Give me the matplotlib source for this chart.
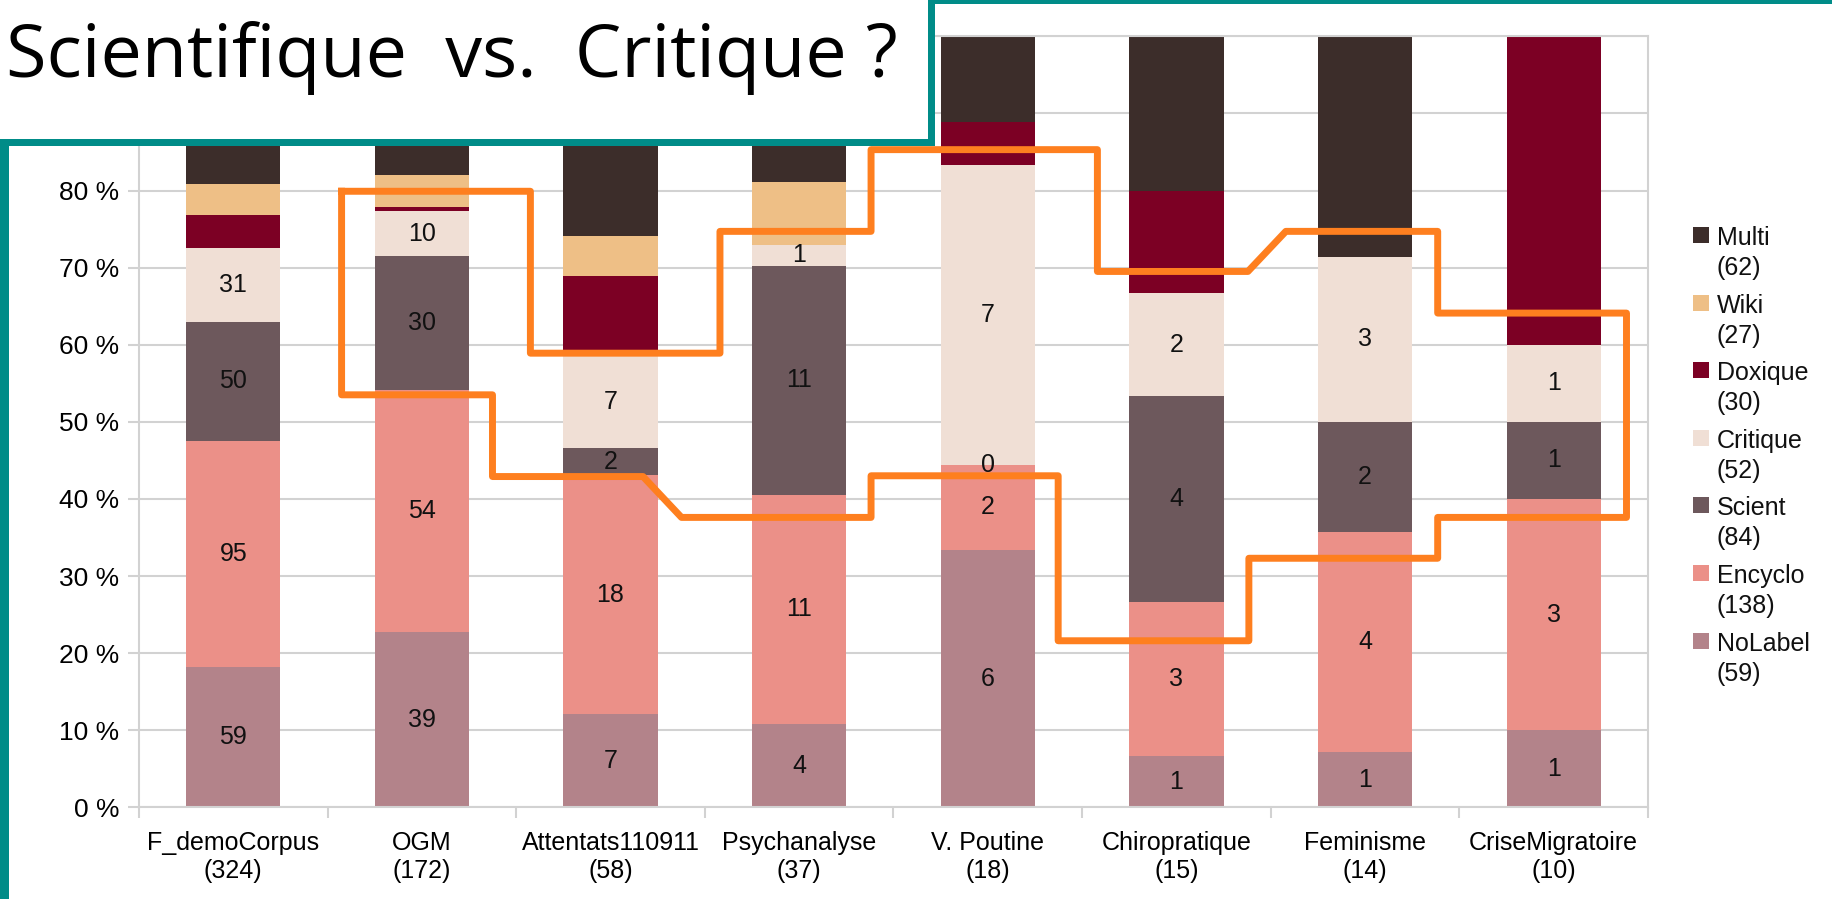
# stacked percentage bars, labels per corpus
import numpy as np
import matplotlib.pyplot as plt
from matplotlib import font_manager
from matplotlib.patches import Rectangle
from matplotlib.lines import Line2D

plt.rcParams["font.family"] = ["Liberation Sans", "DejaVu Sans"]
plt.rcParams["font.size"] = 18

categories = ["F_demoCorpus", "OGM", "Attentats110911", "Psychanalyse",
              "V. Poutine", "Chiropratique", "Feminisme", "CriseMigratoire"]
totals = [324, 172, 58, 37, 18, 15, 14, 10]

# counts per label, bottom to top
nolabel = [59, 39, 7, 4, 6, 1, 1, 1]
encyclo = [95, 54, 18, 11, 2, 3, 4, 3]
scient = [50, 30, 2, 11, 0, 4, 2, 1]
critique = [31, 10, 7, 1, 7, 2, 3, 1]
doxique = [14, 1, 6, 0, 1, 2, 0, 4]
wiki = [13, 7, 3, 3, 0, 0, 0, 0]
multi = [62, 31, 15, 7, 2, 3, 4, 0]

series_names = ["NoLabel", "Encyclo", "Scient", "Critique", "Doxique", "Wiki", "Multi"]
legend_counts = [59, 138, 84, 52, 30, 27, 62]
colors = ["#b3838a", "#eb9088", "#6d585c", "#f0dfd5", "#7c0024", "#eebf86", "#3c2d2a"]
show_values = [True, True, True, True, False, False, False]

# hand drawn outline (category position, percent)
outline_x = [0.574, 1.575, 1.575, 2.580, 2.580, 3.381, 3.381, 4.581, 4.581, 5.379,
             5.580, 6.385, 6.385, 7.386, 7.386, 6.385, 6.385, 5.384, 5.384, 4.373,
             4.373, 3.381, 3.381, 2.376, 2.172, 1.374, 1.374, 0.574, 0.574]
outline_y = [79.9, 79.9, 58.9, 58.9, 74.7, 74.7, 85.3, 85.3, 69.5, 69.5,
             74.7, 74.7, 64.1, 64.1, 37.6, 37.6, 32.3, 32.3, 21.6, 21.6,
             43.0, 43.0, 37.6, 37.6, 42.9, 42.9, 53.5, 53.5, 79.9]

title = "Scientifique  vs.  Critique ?"

W, H = 1833, 899
fig = plt.figure(figsize=(W / 100, H / 100), dpi=100)
ax = fig.add_axes([139 / W, 1 - 807.3 / H, (1648 - 139) / W, (807.3 - 36.3) / H])

data = [nolabel, encyclo, scient, critique, doxique, wiki, multi]
x = np.arange(len(categories))
tot = np.array(totals, dtype=float)
bottom = np.zeros(len(categories))
for name, vals, color, show in zip(series_names, data, colors, show_values):
    pct = np.array(vals) / tot * 100
    bars = ax.bar(x, pct, 0.5, bottom=bottom, color=color, zorder=2)
    if show:
        ax.bar_label(bars, labels=[str(v) for v in vals], label_type="center",
                     fontsize=18, color="#111111")
    bottom += pct

grid_c = "#d2d2d2"
ax.set_xlim(-0.5, len(categories) - 0.5)
ax.set_ylim(0, 100)
ax.set_yticks(np.arange(0, 101, 10))
# 90 and 100 sit under the title box
ax.set_yticklabels([f"{v} %" if v <= 80 else "" for v in range(0, 101, 10)])
ax.yaxis.grid(True, color=grid_c, linewidth=1.5, zorder=0)
ax.set_axisbelow(True)
ax.set_xticks(x)
ax.set_xticklabels([f"{c}\n({t})" for c, t in zip(categories, totals)])
ax.set_xticks(np.arange(-0.5, len(categories), 1), minor=True)
ax.tick_params(axis="x", which="major", length=0, pad=17, labelsize=18)
ax.tick_params(axis="x", which="minor", length=8, width=1.5, color=grid_c)
ax.tick_params(axis="y", length=8, width=1.5, color=grid_c, pad=6, labelsize=19)
for s in ax.spines.values():
    s.set_color(grid_c)
    s.set_linewidth(1.5)

ax.plot(outline_x, outline_y, color="#fe7f1f", linewidth=5, zorder=6,
        solid_joinstyle="round", clip_on=False)

# legend, drawn by hand so the square sits on the first line
for i, (name, cnt, color) in enumerate(zip(series_names[::-1], legend_counts[::-1], colors[::-1])):
    base = 245 + i * 67.6
    fig.add_artist(Rectangle((1693 / W, 1 - (base - 2) / H), 16 / W, 16 / H,
                             transform=fig.transFigure, facecolor=color, edgecolor="none"))
    fig.text(1717 / W, 1 - base / H, name, fontsize=18, va="baseline", color="#111111")
    fig.text(1717 / W, 1 - (base + 30) / H, f"({cnt})", fontsize=18, va="baseline", color="#111111")

# slide frame and title box
teal = "#008c88"
fig.add_artist(Line2D([930 / W, 1], [1 - 2 / H, 1 - 2 / H], transform=fig.transFigure,
                      color=teal, linewidth=4 * 0.72, zorder=9))
fig.add_artist(Line2D([4.5 / W, 4.5 / W], [0, 1 - 140 / H], transform=fig.transFigure,
                      color=teal, linewidth=9 * 0.72, zorder=9))
fig.add_artist(Rectangle((-20 / W, 1 - 142 / H), 951 / W, 170 / H, transform=fig.transFigure,
                         facecolor="white", edgecolor=teal, linewidth=7 * 0.72, zorder=10))

# narrow face for the slide title if there is one
title_font = "DejaVu Sans"
for cand in ["Liberation Sans Narrow", "Open Sans", "Noto Sans"]:
    try:
        font_manager.findfont(cand, fallback_to_default=False)
        title_font = cand
        break
    except ValueError:
        pass

t = fig.text(6 / W, 1 - 77 / H, title, fontsize=60, family=[title_font, "DejaVu Sans"],
             va="baseline", color="black", zorder=11)
r = fig.canvas.get_renderer()
w = t.get_window_extent(renderer=r).width
t.set_fontsize(60 * 891 / w)

fig.savefig("out.png", dpi=100)
